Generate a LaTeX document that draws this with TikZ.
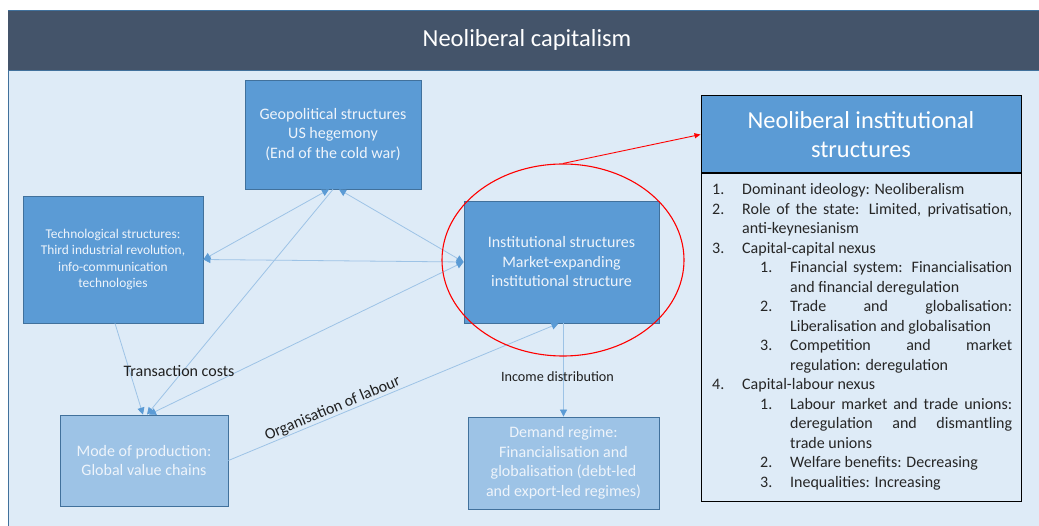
\documentclass[tikz,border=0pt]{standalone}
\usepackage{fontspec}
\setmainfont{Carlito}
\usetikzlibrary{arrows.meta,calc,shapes.geometric}

\definecolor{headdark}{HTML}{44546A}
\definecolor{panel}{HTML}{DEEBF7}
\definecolor{frame}{HTML}{41719C}
\definecolor{boxblue}{HTML}{5B9BD5}
\definecolor{boxlight}{HTML}{9DC3E6}
\definecolor{linkline}{HTML}{9DC3E6}
\definecolor{boxtext}{HTML}{EEF4FB}
\definecolor{listtext}{HTML}{262626}

% numbered entries of the side list: first and second level
\newcommand\listone[2]{\par\hangindent=30pt\hangafter=1\noindent\strut\makebox[30pt][l]{#1}#2}
\newcommand\listtwo[2]{\par\hangindent=78pt\hangafter=1\noindent\strut\hspace*{48pt}\makebox[30pt][l]{#1}#2}

\begin{document}
\begin{tikzpicture}[x=1pt,y=-1pt,
  box/.style={draw=frame, line width=0.8pt, fill=boxblue, text=boxtext,
    align=center, inner sep=0pt, font=\fontsize{16}{19.5}\selectfont},
  lightbox/.style={box, fill=boxlight},
  link/.style={draw=linkline, line width=0.8pt},
  lbl/.style={text=black!88, inner sep=1pt, font=\fontsize{16}{19}\selectfont},
  >={Triangle[length=7pt,width=7pt,color=boxblue]}
]
\useasboundingbox (0,0) rectangle (1039,526);
\fill[white] (0,0) rectangle (1039,526);

% frame and title band
\filldraw[fill=panel, draw=frame, line width=0.8pt] (8,10) rectangle (1045,532);
\fill[headdark] (8,10) rectangle (1045,70);
\draw[frame, line width=0.8pt] (8,10) -- (1045,10);
\draw[frame, line width=0.8pt] (8,70) -- (1045,70);
\node[text=white, font=\fontsize{24.5}{29}\selectfont] (title) at (527,40) {Neoliberal capitalism};

% structures
\node[box, minimum width=176pt, minimum height=109pt] (geo) at (333,134.5)
  {Geopolitical structures\\US hegemony\\(End of the cold war)};
\node[box, minimum width=180pt, minimum height=127pt, font=\fontsize{13.4}{16.3}\selectfont] (tech) at (113,259.5)
  {Technological structures:\\Third industrial revolution,\\info-communication\\technologies};
\node[box, minimum width=195pt, minimum height=122pt] (inst) at (561.5,262)
  {Institutional structures\\Market-expanding\\institutional structure};
\node[lightbox, minimum width=168pt, minimum height=91pt] (mode) at (144,460.5)
  {Mode of production:\\Global value chains};
\node[lightbox, minimum width=191pt, minimum height=92pt] (demand) at (563.5,463)
  {Demand regime:\\Financialisation and\\globalisation (debt-led\\and export-led regimes)};

% links between structures
\draw[link,<->] ($(geo.south)+(-4,0)$) -- (tech.east);
\draw[link,<->] ($(geo.south)+(6,0)$) -- (inst.west);
\draw[link,<->] (tech.east) -- (inst.west);
\draw[link,->] (geo.south) -- ($(mode.north)+(3,0)$);
\draw[link,->] ($(tech.south)+(2,0)$) -- ($(mode.north)+(-1,0)$);
\draw[link,<->] (inst.west) -- ($(mode.north)+(5,0)$);
\draw[link,->] (mode.east) -- node[lbl, sloped, above, pos=0.325, inner sep=0.5pt] (orglbl) {Organisation of labour} ($(inst.south)+(-3,0)$);
\draw[link,->] (inst.south -| demand.north) -- node[lbl, pos=0.57, xshift=-6pt, font=\fontsize{14.2}{17}\selectfont] (inclbl) {Income distribution} (demand.north);
\node[lbl] (tclbl) at (179,371) {Transaction costs};

% highlighted institutional structures
\node[ellipse, draw=red, line width=1.1pt, minimum width=242pt, minimum height=192pt, inner sep=0pt] (focus) at (563,260) {};

% side panel
\node[draw=black, line width=1pt, fill=boxblue, text=white, align=center, inner sep=0pt,
  minimum width=320pt, minimum height=77pt, font=\fontsize{24.4}{29.5}\selectfont] (nhead) at (861,134.5)
  {Neoliberal institutional\\structures};
\node[draw=black, line width=1pt, fill=panel, inner sep=0pt, minimum width=320pt, minimum height=327pt,
  anchor=north] (nlist) at (nhead.south) {};
\node[anchor=north west, inner sep=0pt, text width=300pt, align=justify, text=listtext,
  font=\fontsize{16}{19.5}\selectfont] (items) at (712,175)
{\tolerance=10000 \hyphenpenalty=10000 \exhyphenpenalty=10000 \parindent=0pt
\listone{1.}{Dominant ideology: Neoliberalism}
\listone{2.}{Role of the state: Limited, privatisation,\linebreak anti-keynesianism}
\listone{3.}{Capital-capital nexus}
\listtwo{1.}{Financial system: Financialisation\linebreak and financial deregulation}
\listtwo{2.}{Trade and globalisation:\linebreak Liberalisation and globalisation}
\listtwo{3.}{Competition and market\linebreak regulation: deregulation}
\listone{4.}{Capital-labour nexus}
\listtwo{1.}{Labour market and trade unions:\linebreak deregulation and dismantling\linebreak trade unions}
\listtwo{2.}{Welfare benefits: Decreasing}
\listtwo{3.}{Inequalities: Increasing}\par};

\draw[red, line width=0.9pt, -{Triangle[length=6pt,width=5pt]}] (focus.north) -- (nhead.west);
\end{tikzpicture}
\end{document}
